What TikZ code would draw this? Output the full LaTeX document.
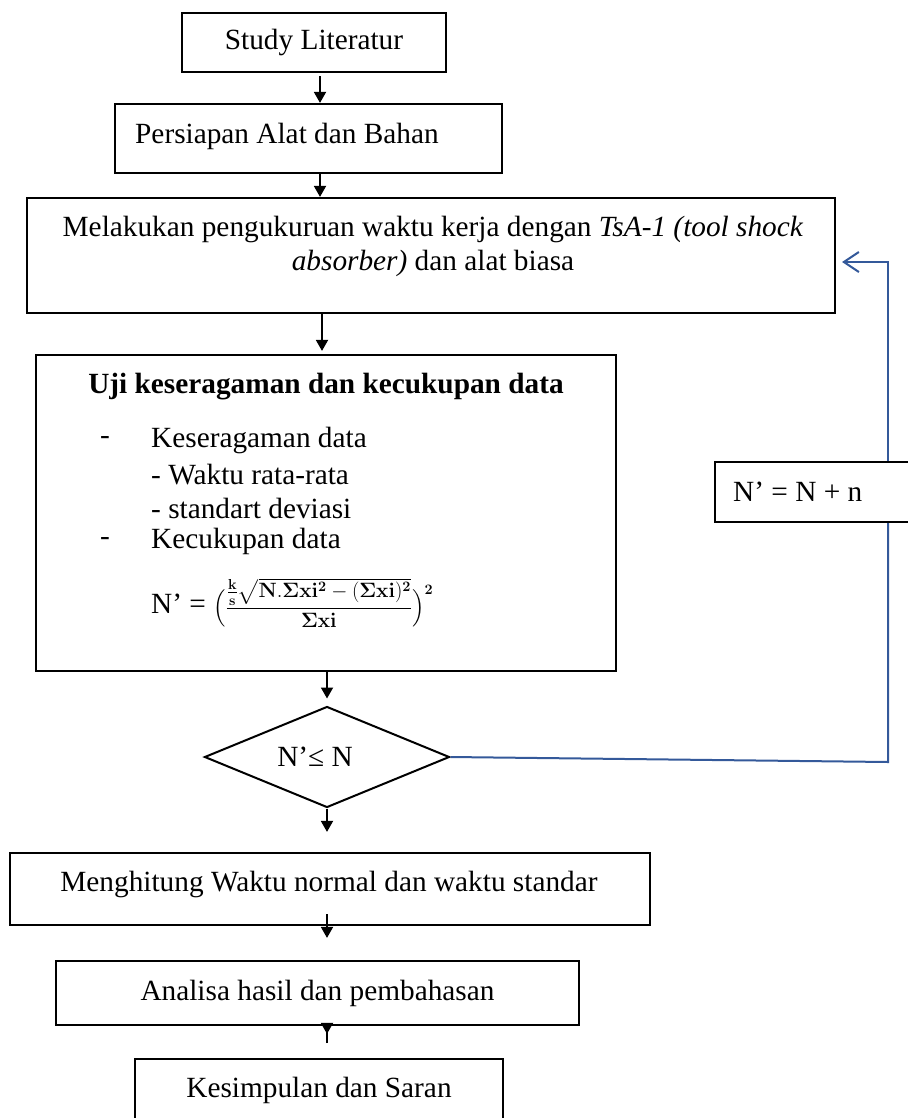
\documentclass[tikz,border=0pt]{standalone}
\usepackage{amsmath}
\usepackage[no-math]{fontspec}
\setmainfont{Liberation Serif}
\usetikzlibrary{arrows.meta,shapes.geometric}
\definecolor{ink}{HTML}{000000}
\definecolor{loopblue}{HTML}{34599A}
\newcommand{\txt}{\fontsize{29.3}{33.5}\selectfont}
\tikzset{
  box/.style={draw=ink, line width=2.2pt, rectangle, inner sep=0pt, font=\txt, align=center},
  flow/.style={draw=ink, line width=1.8pt, -{Triangle[length=11pt,width=12pt]}},
  back/.style={draw=loopblue, line width=2pt, line join=miter},
  backarr/.style={back, -{Straight Barb[length=15pt,width=20pt,line width=2pt]}},
  lab/.style={font=\txt, inner sep=0pt},
}

\begin{document}
\begin{tikzpicture}[x=1pt,y=-1pt]
  \useasboundingbox (0,0) rectangle (907,1118);
  \coordinate (colA) at (320,0);
  \coordinate (colB) at (322,0);
  \coordinate (col) at (327,0);
  \coordinate (bx) at (888,0);

  % main column
  \node[box, minimum width=264pt, minimum height=59pt] (study) at (314,42.5) {Study Literatur};
  \node[box, minimum width=387pt, minimum height=69pt] (siap) at (308.5,138.5) {};
  \node[lab, anchor=west] (siaptext) at (135,136) {Persiapan Alat dan Bahan};
  \node[box, minimum width=808pt, minimum height=115pt] (ukur) at (431,255.5) {};
  \node[lab, align=center] (ukurtext) at (433,246.5) {Melakukan pengukuruan waktu kerja dengan \textit{TsA-1 (tool shock}\\ \textit{absorber)} dan alat biasa};

  \node[box, minimum width=580pt, minimum height=316pt] (uji) at (326,513) {};
  \node[lab, font=\txt\bfseries] (ujititle) at (326,387) {Uji keseragaman dan kecukupan data};
  \node[lab] (dashA) at (105,440) {-};
  \node[lab, anchor=west] (seragam) at (151,440) {Keseragaman data};
  \node[lab, anchor=west] (rata) at (151,475) {- Waktu rata-rata};
  \node[lab, anchor=west] (deviasi) at (151,508) {- standart deviasi};
  \node[lab] (dashB) at (105,541) {-};
  \node[lab, anchor=west] (cukup) at (151,541) {Kecukupan data};
  \node[lab, anchor=west] (rumus) at (151,603) {N’ = {\fontsize{21}{24}\selectfont$\Bigl(\dfrac{\tfrac{\mathbf{k}}{\mathbf{s}}\sqrt{\mathbf{N.\Sigma xi^{2}-(\Sigma xi)^{2}}}}{\mathbf{\Sigma xi}}\Bigr)^{\mathbf{2}}$}};

  \node[draw=ink, line width=2pt, diamond, minimum width=245pt, minimum height=101pt, inner sep=0pt] (cek) at (327,757) {};
  \node[lab] (cektext) at (315,757) {N’≤ N};

  \node[box, minimum width=640pt, minimum height=72pt] (hitung) at (330,889) {};
  \node[lab] (hitungtext) at (329,884) {Menghitung Waktu normal dan waktu standar};
  \node[box, minimum width=523pt, minimum height=64pt] (analisa) at (317.5,993) {Analisa hasil dan pembahasan};
  \node[box, minimum width=368pt, minimum height=62pt] (simpul) at (319,1090) {Kesimpulan dan Saran};

  % loop box
  \node[box, minimum width=197pt, minimum height=60pt] (nn) at (813.5,492) {};
  \node[lab, anchor=west] (nntext) at (733,492) {N’ = N + n};

  % arrows
  \draw[flow, shorten <=3pt] (study.south -| colA) -- (siap.north -| colA);
  \draw[flow] (siap.south -| colA) -- (ukur.north -| colA);
  \draw[flow, shorten >=3pt] (ukur.south -| colB) -- (uji.north -| colB);
  \draw[flow, shorten >=7pt] (uji.south -| col) -- (cek.north);
  \draw[flow, shorten >=20pt] (cek.south) -- (hitung.north -| col);
  \draw[flow, shorten <=-12pt, shorten >=22pt] (hitung.south -| col) -- (analisa.north -| col);
  \draw[flow, shorten <=-17pt, shorten >=24pt] (analisa.south -| col) -- (simpul.north -| col);

  % feedback
  \coordinate (cekR) at ([yshift=-5pt]cek.east);
  \draw[back] (cek.east) -- (cekR -| bx) -- (nn.south -| bx);
  \draw[backarr, shorten >=6pt] (nn.north -| bx) |- ([yshift=-6.5pt]ukur.east);
\end{tikzpicture}
\end{document}
